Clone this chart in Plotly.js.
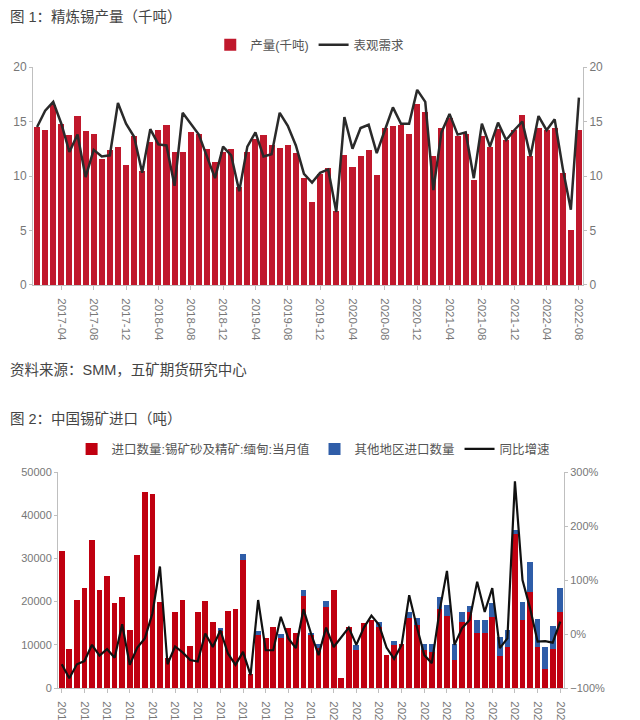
<!DOCTYPE html>
<html><head><meta charset="utf-8">
<script src="https://cdn.plot.ly/plotly-3.0.1.min.js"></script>
<style>html,body{margin:0;padding:0;background:#fff;} #chart{width:640px;height:720px;}</style>
</head><body><div id="chart"></div>
<script>
function monthList(y, m, n) {
  const out = [];
  for (let i = 0; i < n; i++) {
    out.push(y + '-' + (m < 10 ? '0' + m : '' + m));
    m++; if (m > 12) { m = 1; y++; }
  }
  return out;
}
// Figure 1: refined tin output (kt), 2017-01 .. 2022-08
const months1 = monthList(2017, 1, 68);
const production = [14.5,14.2,16.5,14.8,13.8,15.5,14.1,13.9,11.6,12.4,
  12.7,11.0,13.7,10.5,13.1,14.2,14.7,12.2,12.2,14.0,
  13.9,12.5,11.3,12.2,12.5,9.0,12.2,13.4,13.8,12.8,
  12.6,12.8,12.1,9.8,7.6,10.2,10.7,6.8,11.9,10.8,
  11.8,12.4,10.1,14.4,14.6,14.7,13.9,16.6,15.9,11.8,
  14.4,15.3,13.7,13.9,9.6,13.7,12.7,14.3,13.3,14.2,
  15.6,11.8,14.4,14.2,14.4,10.3,5.0,14.2];
const demand = [14.5,16.0,16.8,14.8,12.2,13.8,9.9,12.4,11.8,11.9,
  16.7,14.8,13.6,10.3,14.3,12.9,12.8,9.1,15.8,14.8,
  13.8,11.8,9.8,12.7,11.9,8.6,12.7,14.0,11.8,12.0,
  15.8,14.6,12.8,10.2,9.4,10.3,10.6,6.7,15.4,12.5,
  14.4,14.7,12.1,14.2,16.3,14.8,14.8,17.9,16.8,8.7,
  14.0,15.7,13.8,14.0,9.8,14.8,12.7,14.9,13.3,14.2,
  15.0,11.8,15.5,14.2,15.2,10.7,6.9,17.2];
const ticks1 = ['2017-04','2017-08','2017-12','2018-04','2018-08','2018-12','2019-04','2019-08','2019-12',
  '2020-04','2020-08','2020-12','2021-04','2021-08','2021-12','2022-04','2022-08'];

// Figure 2: China tin ore imports (t), 2017-01 .. 2022-07
const months2 = monthList(2017, 1, 67);
const myanmar = [31700,9000,20400,23100,34200,22600,25900,19600,21100,13400,
  30800,45400,44800,20000,7000,17700,20400,9700,17700,20100,
  15300,13300,17900,18200,29600,3300,12300,11600,14200,11500,
  13900,12800,21400,12300,9300,18800,22700,2400,14200,8800,
  15000,15700,14200,7600,9900,10300,16100,14700,8800,8400,
  18400,16600,6500,15400,17700,12700,12700,16500,7300,9600,
  35600,15700,22300,9600,4400,9000,17700];
const others = [0,0,0,0,0,0,0,0,0,0,
  0,0,0,0,0,0,0,0,0,0,
  0,700,0,0,1400,0,1000,0,0,900,
  0,0,1300,500,1000,1300,0,0,0,1100,
  0,0,1200,0,900,0,1500,1500,1500,1700,
  2700,2600,3700,2100,1400,3100,3100,3100,4600,3900,
  1000,4300,6800,6400,5200,5300,5500];
const yoy = [-56,-82,-56,-50,-20,-40,-28,-44,18,-57,
  -25,-8,38,125,-56,-23,-34,-48,-51,1,
  -24,7,-36,-57,-33,-76,63,-30,-30,32,
  -8,-26,46,1,-39,12,-24,-7,12,-20,
  12,34,17,-25,-46,-20,72,14,-39,-54,
  41,117,-20,11,26,97,41,85,-26,-8,
  283,100,48,-14,-13,-16,23];
const ticks2 = months2.filter((m, i) => i % 3 === 0);

const FONT = 'Liberation Sans, Noto Sans CJK SC, sans-serif';
const axisGray = '#bfbfbf';
const tickGray = '#777';

const traces = [
  {type:'bar', x:months1, y:production, xaxis:'x', yaxis:'y', name:'产量(千吨)',
   marker:{color:'#C0182C'}, legend:'legend'},
  {type:'scatter', mode:'lines', x:months1, y:demand, xaxis:'x', yaxis:'y2', name:'表观需求',
   line:{color:'#2a2a2a', width:2.5}, legend:'legend'},
  {type:'bar', x:months2, y:myanmar, xaxis:'x2', yaxis:'y3', name:'进口数量:锡矿砂及精矿:缅甸:当月值',
   marker:{color:'#C00010'}, legend:'legend2'},
  {type:'bar', x:months2, y:others, xaxis:'x2', yaxis:'y3', name:'其他地区进口数量',
   marker:{color:'#2F5DA8'}, legend:'legend2'},
  {type:'scatter', mode:'lines', x:months2, y:yoy, xaxis:'x2', yaxis:'y4', name:'同比增速',
   line:{color:'#111', width:2.2}, legend:'legend2'}
];

function yAx(extra) {
  return Object.assign({showline:true, linecolor:axisGray, linewidth:1, ticks:'outside', ticklen:3,
    tickcolor:axisGray, showgrid:false, zeroline:false, tickfont:{size:12, color:tickGray, family:FONT}}, extra);
}

const layout = {
  width:640, height:720, margin:{l:0, r:0, t:0, b:0},
  paper_bgcolor:'#fff', plot_bgcolor:'#fff',
  font:{family:FONT, color:'#555'},
  barmode:'stack', bargap:0.25,
  xaxis:{domain:[0.0516,0.9109], anchor:'y', type:'category', range:[-0.5,67.5],
    tickvals:ticks1, ticktext:ticks1, tickangle:90, ticks:'outside', ticklen:4, tickcolor:axisGray,
    ticklabelstandoff:6,
    showline:true, linecolor:axisGray, showgrid:false, tickfont:{size:11.5, color:tickGray, family:FONT}},
  yaxis:yAx({domain:[0.6042,0.9069], anchor:'x', range:[0,20], dtick:5}),
  yaxis2:yAx({overlaying:'y', side:'right', anchor:'x', range:[0,20], dtick:5}),
  xaxis2:{domain:[0.0906,0.8813], anchor:'y3', type:'category', range:[-0.5,66.5],
    tickvals:ticks2, ticktext:ticks2, tickangle:90, ticks:'outside', ticklen:4, tickcolor:axisGray,
    ticklabelstandoff:6,
    showline:true, linecolor:axisGray, showgrid:false, tickfont:{size:11.5, color:tickGray, family:FONT}},
  yaxis3:yAx({domain:[0.0444,0.3444], anchor:'x2', range:[0,50000], dtick:10000, tickformat:'d',
    tickfont:{size:11, color:tickGray, family:FONT}}),
  yaxis4:yAx({overlaying:'y3', side:'right', anchor:'x2', range:[-100,300], dtick:100, ticksuffix:'%',
    tickfont:{size:11, color:tickGray, family:FONT}}),
  legend:{orientation:'h', x:0.484, xanchor:'center', y:0.9375, yanchor:'middle',
    font:{size:12.5, color:'#555', family:FONT}, bgcolor:'rgba(0,0,0,0)', traceorder:'normal'},
  legend2:{orientation:'h', x:0.49, xanchor:'center', y:0.376, yanchor:'middle',
    font:{size:12.5, color:'#555', family:FONT}, bgcolor:'rgba(0,0,0,0)', traceorder:'normal'},
  annotations:[
    {text:'图 1：精炼锡产量（千吨）', xref:'paper', yref:'paper', x:8/640, y:(720-17)/720,
     xanchor:'left', yanchor:'middle', showarrow:false, font:{size:14.5, color:'#444', family:FONT}},
    {text:'资料来源：SMM，五矿期货研究中心', xref:'paper', yref:'paper', x:8/640, y:(720-370)/720,
     xanchor:'left', yanchor:'middle', showarrow:false, font:{size:14.5, color:'#444', family:FONT}},
    {text:'图 2：中国锡矿进口（吨）', xref:'paper', yref:'paper', x:8/640, y:(720-419)/720,
     xanchor:'left', yanchor:'middle', showarrow:false, font:{size:14.5, color:'#444', family:FONT}}
  ]
};

Plotly.newPlot('chart', traces, layout, {staticPlot:true, displayModeBar:false});
</script>
</body></html>
